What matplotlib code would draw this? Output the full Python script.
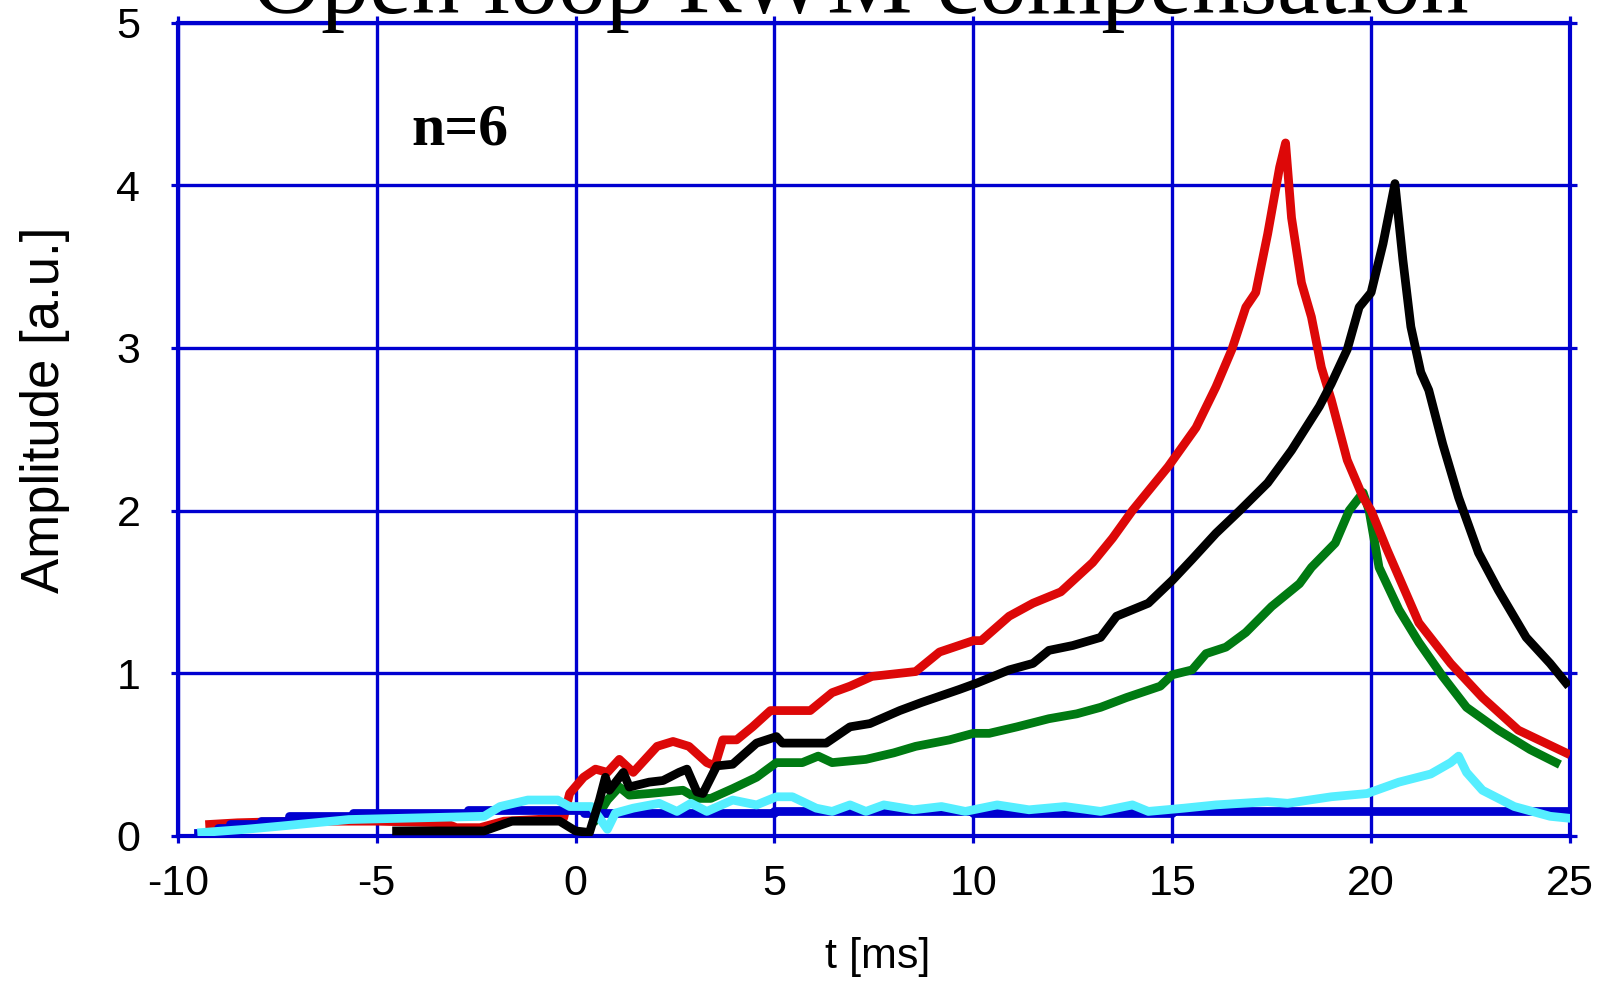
import matplotlib
matplotlib.use("Agg")
from matplotlib import pyplot as plt

# data
t_red = [-9.2, -8.5, -7, -5, -3.3, -3.0, -2.4, -1.8, -1.0, -0.3, -0.15, 0.2, 0.5, 0.8, 1.1, 1.45,
         2.05, 2.45, 2.85, 3.3, 3.5, 3.7, 4.05, 4.45, 4.9, 5.9, 6.45, 6.9, 7.45, 8.55, 9.15, 10.0,
         10.2, 10.9, 11.5, 12.2, 13.0, 13.5, 14.0, 14.9, 15.6, 16.1, 16.5, 16.85, 17.1, 17.4, 17.7,
         17.85, 18.0, 18.25, 18.5, 18.75, 19.0, 19.4, 19.8, 20.0, 20.4, 21.2, 22.0, 22.8, 23.7, 24.9]
y_red = [0.07, 0.08, 0.09, 0.09, 0.08, 0.05, 0.05, 0.09, 0.1, 0.11, 0.26, 0.36, 0.41, 0.39, 0.47, 0.39,
         0.55, 0.58, 0.55, 0.45, 0.43, 0.59, 0.59, 0.67, 0.77, 0.77, 0.88, 0.92, 0.98, 1.01, 1.13, 1.2,
         1.2, 1.35, 1.43, 1.5, 1.68, 1.83, 2.0, 2.27, 2.51, 2.76, 2.99, 3.25, 3.34, 3.7, 4.11,
         4.26, 3.8, 3.4, 3.19, 2.88, 2.68, 2.31, 2.08, 2.0, 1.76, 1.31, 1.06, 0.85, 0.65, 0.51]

t_black = [-4.5, -2.3, -1.6, -0.4, 0.0, 0.35, 0.6, 0.75, 0.85, 1.2, 1.35, 1.85, 2.2, 2.6, 2.8, 3.05,
           3.2, 3.55, 3.95, 4.55, 5.05, 5.2, 6.3, 6.9, 7.4, 8.15, 8.7, 9.65, 10.1, 10.9, 11.5, 11.9,
           12.5, 13.2, 13.6, 14.4, 15.0, 15.5, 16.1, 16.7, 17.4, 18.0, 18.7, 19.0, 19.4, 19.7, 20.0,
           20.3, 20.6, 20.8, 21.0, 21.25, 21.45, 21.8, 22.2, 22.7, 23.2, 23.9, 24.5, 24.9]
y_black = [0.03, 0.03, 0.09, 0.09, 0.03, 0.02, 0.22, 0.36, 0.28, 0.39, 0.3, 0.33, 0.34, 0.39, 0.41, 0.27,
           0.26, 0.43, 0.44, 0.57, 0.61, 0.57, 0.57, 0.67, 0.69, 0.77, 0.82, 0.9, 0.94, 1.02, 1.06, 1.14,
           1.17, 1.22, 1.35, 1.43, 1.57, 1.70, 1.86, 2.0, 2.17, 2.37, 2.64, 2.78, 2.99, 3.25, 3.34,
           3.64, 4.01, 3.54, 3.13, 2.85, 2.74, 2.41, 2.08, 1.74, 1.51, 1.22, 1.06, 0.94]

t_green = [0.5, 0.8, 1.1, 1.35, 1.85, 2.7, 3.05, 3.4, 3.95, 4.55, 5.05, 5.7, 6.1, 6.45, 7.3, 8.0,
           8.55, 9.4, 10.0, 10.4, 11.1, 11.9, 12.6, 13.2, 13.85, 14.7, 15.0, 15.5, 15.85, 16.35,
           16.85, 17.5, 18.2, 18.5, 19.1, 19.45, 19.8, 19.95, 20.2, 20.7, 21.2, 21.8, 22.4, 23.2,
           24.0, 24.65]
y_green = [0.1, 0.22, 0.3, 0.25, 0.26, 0.28, 0.23, 0.23, 0.29, 0.36, 0.45, 0.45, 0.49, 0.45, 0.47, 0.51,
           0.55, 0.59, 0.63, 0.63, 0.67, 0.72, 0.75, 0.79, 0.85, 0.92, 0.99, 1.02, 1.12, 1.16,
           1.25, 1.41, 1.55, 1.65, 1.80, 2.0, 2.11, 2.0, 1.65, 1.39, 1.19, 0.98, 0.79, 0.65,
           0.53, 0.45]

t_cyan = [-9.4, -8.3, -7.4, -5.7, -2.3, -1.9, -1.2, -0.45, -0.15, 0.4, 0.8, 1.0, 1.45, 2.1, 2.55,
          2.9, 3.3, 3.95, 4.55, 5.05, 5.45, 6.05, 6.45, 6.9, 7.3, 7.75, 8.5, 9.2, 9.8, 10.6, 11.4,
          12.3, 13.2, 14.0, 14.4, 15.3, 16.1, 17.4, 17.9, 19.0, 19.9, 20.7, 21.5, 22.0, 22.2, 22.4,
          22.8, 23.6, 24.5, 24.9]
y_cyan = [0.02, 0.04, 0.06, 0.1, 0.12, 0.18, 0.22, 0.22, 0.18, 0.18, 0.04, 0.14, 0.17, 0.2, 0.15,
          0.2, 0.15, 0.22, 0.19, 0.24, 0.24, 0.17, 0.15, 0.19, 0.15, 0.19, 0.16, 0.18, 0.15, 0.19, 0.16,
          0.18, 0.15, 0.19, 0.15, 0.17, 0.19, 0.21, 0.2, 0.24, 0.26, 0.33, 0.38, 0.45, 0.49, 0.39,
          0.28, 0.18, 0.12, 0.11]

t_blue = [-9.5, -9.0, -8.7, -7.9, -7.2, -5.6, -2.7, 0.2, 5, 10, 15, 20, 22.5, 25]
y_blue = [0.02, 0.05, 0.07, 0.09, 0.12, 0.14, 0.16, 0.14, 0.15, 0.14, 0.15, 0.15, 0.15, 0.15]

xticks = [-10, -5, 0, 5, 10, 15, 20, 25]
yticks = [0, 1, 2, 3, 4, 5]

BLUE = '#0000d0'


def main():
    plt.rcParams['axes.unicode_minus'] = False
    fig = plt.figure(figsize=(16.02, 9.81), dpi=100)
    ax = fig.add_axes([0.111, 0.148, 0.869, 0.829])

    lw = 6.3
    ax.plot(t_green, y_green, color='#007a12', lw=lw, zorder=3)
    ax.plot(t_red, y_red, color='#dd0808', lw=lw, zorder=4)
    ax.plot(t_cyan, y_cyan, color='#55eeff', lw=lw, zorder=5)
    ax.plot(t_blue, y_blue, color=BLUE, lw=lw, zorder=4.5, drawstyle='steps-post')
    ax.plot(t_black, y_black, color='black', lw=lw, zorder=6)

    ax.set_xlim(-10, 25)
    ax.set_ylim(0, 5)
    ax.set_xticks(xticks)
    ax.set_yticks(yticks)
    ax.grid(True, color=BLUE, lw=2.4)
    ax.set_axisbelow(True)
    for s in ax.spines.values():
        s.set_color(BLUE)
        s.set_linewidth(3)
    ax.tick_params(direction='out', length=5, width=2.3, color=BLUE,
                   top=True, right=True, labelsize=31)
    ax.tick_params(axis='y', pad=22)
    ax.tick_params(axis='x', pad=15)
    for lab in ax.get_xticklabels() + ax.get_yticklabels():
        lab.set_family('Liberation Sans')

    ax.set_xlabel('t [ms]', fontsize=31, family='Liberation Sans')
    ax.xaxis.set_label_coords(0.503, -0.125)
    ax.set_ylabel('Amplitude [a.u.]', fontsize=38, family='Liberation Sans')
    ax.yaxis.set_label_coords(-0.0776, 0.524)

    ax.text(-4.12, 4.25, 'n=6', fontsize=43, fontweight='bold',
            family='Liberation Serif', va='baseline', ha='left')

    fig.text(0.537, 1 - 13 / 981, 'Open loop RWM compensation', fontsize=69,
             family='Liberation Serif', ha='center', va='baseline')

    fig.savefig('out.png', dpi=100)


if __name__ == '__main__':
    main()
